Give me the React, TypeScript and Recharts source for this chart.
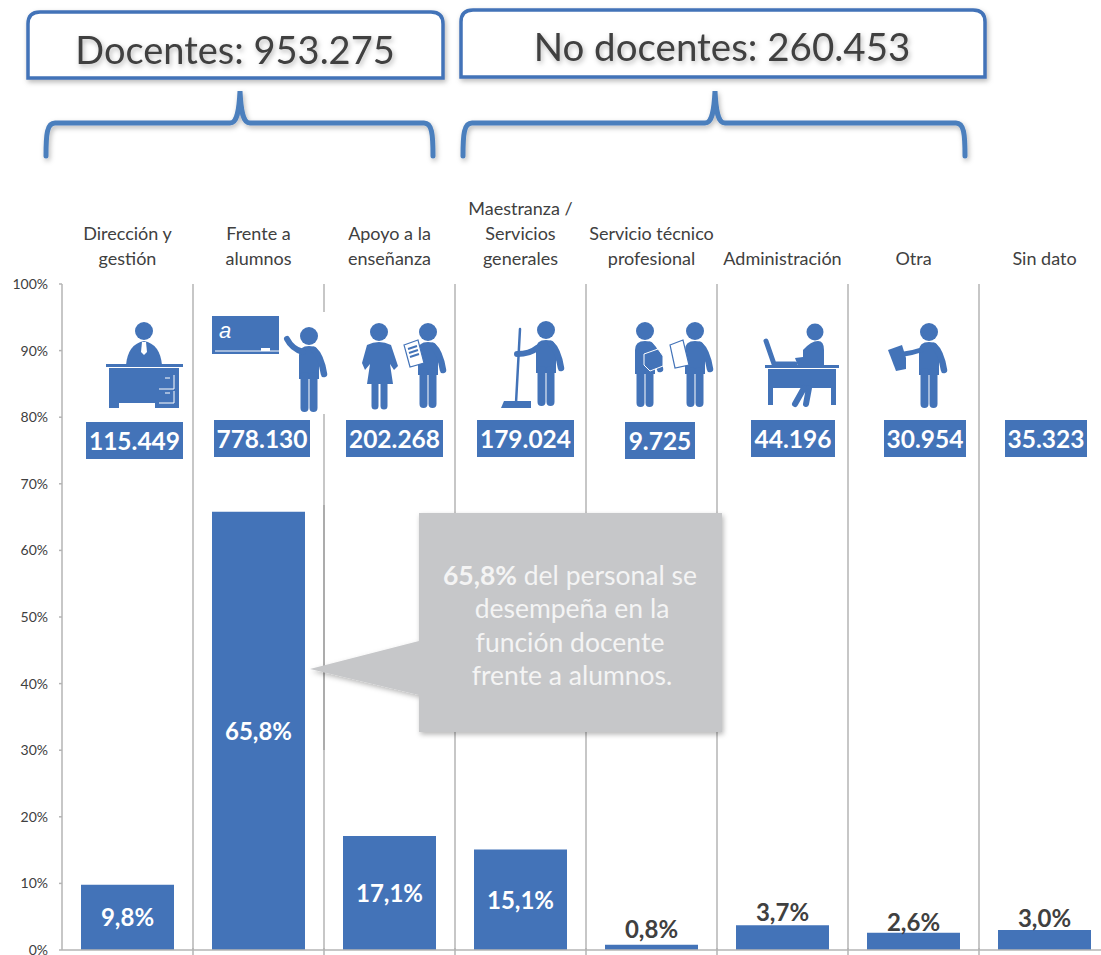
import { Bar, BarChart, CartesianGrid, LabelList, XAxis, YAxis } from "recharts"

const categories = [
  "Dirección y\ngestión",
  "Frente a\nalumnos",
  "Apoyo a la\nenseñanza",
  "Maestranza /\nServicios\ngenerales",
  "Servicio técnico\nprofesional",
  "Administración",
  "Otra",
  "Sin dato",
]
const percentages = [9.8, 65.8, 17.1, 15.1, 0.8, 3.7, 2.6, 3.0]
const counts = ["115.449", "778.130", "202.268", "179.024", "9.725", "44.196", "30.954", "35.323"]
const yTicks = [0, 10, 20, 30, 40, 50, 60, 70, 80, 90, 100]

// count boxes sit a little off the bar centre in the original
const boxOffset = [7, 3.5, 5, 5, 8.5, 10.5, 11.5, 1.5]
const boxWidth = [97, 96, 97, 97, 70, 84, 82, 82]
const boxTop = [422, 420, 420, 420, 422, 420, 420, 420]
// gap between a small bar and its label
const labelLift = [0, 0, 0, 0, 7, 4, 2, 3]

const chartData = categories.map((name, i) => ({ name, pct: percentages[i], count: counts[i] }))

const BLUE = "#4373b8"
const GRID = "#b4b4b4"
const TEXT = "#404040"
const FONT = "Lato, sans-serif"
const BAND = 131

function CategoryTick({ x, y, payload }: any) {
  const lines = String(payload.value).split("\n")
  return (
    <text textAnchor="middle" fontFamily={FONT} fontSize={18} fill={TEXT}>
      {lines.map((line, i) => (
        <tspan key={line} x={x} y={y - 11 - (lines.length - 1 - i) * 25}>
          {line}
        </tspan>
      ))}
    </text>
  )
}

function BoundaryTick({ x, y }: any) {
  return <line x1={x + BAND / 2} x2={x + BAND / 2} y1={y - 4} y2={y + 10} stroke={GRID} strokeWidth={1.5} />
}

function PercentLabel({ x, y, width, height, value, index }: any) {
  const inside = value > 5
  const cx = x + width / 2
  return (
    <text
      x={cx}
      y={inside ? y + height / 2 + 9 : y - labelLift[index]}
      textAnchor="middle"
      fontFamily={FONT}
      fontWeight={700}
      fontSize={24}
      fill={inside ? "#ffffff" : TEXT}
    >
      {String(value.toFixed(1)).replace(".", ",")}%
    </text>
  )
}

function CountLabel({ x, width, value, index }: any) {
  const cx = x + width / 2 + boxOffset[index]
  return (
    <g>
      <rect x={cx - boxWidth[index] / 2} y={boxTop[index]} width={boxWidth[index]} height={37} fill={BLUE} />
      <text
        x={cx}
        y={boxTop[index] + 28}
        textAnchor="middle"
        fontFamily={FONT}
        fontWeight={700}
        fontSize={24.5}
        fill="#ffffff"
      >
        {value}
      </text>
    </g>
  )
}

// standing figure used by most of the pictograms
function Person({ x, head = 332 }: { x: number; head?: number }) {
  const t = head + 10
  return (
    <g fill={BLUE} stroke="none">
      <circle cx={x} cy={head} r={9} />
      <path d={`M${x - 10} ${t + 33} V${t + 9} Q${x - 10} ${t} ${x} ${t} Q${x + 10} ${t} ${x + 10} ${t + 9} V${t + 33} Z`} />
      <path
        d={`M${x + 5} ${t + 4} Q${x + 12} ${t + 10} ${x + 15} ${t + 28}`}
        fill="none"
        stroke={BLUE}
        strokeWidth={6.5}
        strokeLinecap="round"
      />
      <path
        d={`M${x - 4.5} ${t + 30} V${t + 62} M${x + 4.5} ${t + 30} V${t + 62}`}
        stroke={BLUE}
        strokeWidth={8}
        strokeLinecap="round"
      />
    </g>
  )
}

function Icons() {
  return (
    <g fill={BLUE}>
      {/* director */}
      <circle cx={144} cy={331} r={9} />
      <path d="M126 365 Q128 344 144 341 Q160 344 162 365 Z" />
      <path d="M142 342 H146 L147 352 L144 355 L141 352 Z" fill="#fff" />
      <rect x={106} y={364} width={77} height={3} />
      <path d="M109 368 H179 V408 H155 V403 H119 V408 H109 Z" />
      <path d="M159 389 H174 V375 M159 403 H174 V391 M165 378 H170 M165 393 H170" fill="none" stroke="#fff" strokeWidth={1} />

      {/* teacher */}
      <rect x={320} y={312} width={7} height={102} fill="#fff" />
      <rect x={212} y={316} width={67} height={38} />
      <text x={219} y={338} fontFamily="Liberation Sans" fontStyle="italic" fontSize={22} fill="#fff">
        a
      </text>
      <path d="M215 351 H279" stroke="#fff" strokeWidth={1} />
      <rect x={261} y={348} width={9} height={3} fill="#fff" />
      <Person x={309} head={336} />
      <path d="M303 352 Q292 349 287 339" fill="none" stroke={BLUE} strokeWidth={6} strokeLinecap="round" />

      {/* support staff */}
      <circle cx={379} cy={332} r={9} />
      <path d="M367 345 Q379 339 391 345 L398 366 L394 370 L390 364 L393 384 H367 L370 364 L365 370 L362 363 Z" />
      <path d="M375 384 V406 M384 384 V406" stroke={BLUE} strokeWidth={7} strokeLinecap="round" />
      <Person x={428} />
      <path d="M404 345 L418 340 L424 363 L410 367 Z" fill="#fff" stroke={BLUE} strokeWidth={1.2} />
      <path d="M408 349 L417 346 M409 353 L418 350 M410 357 L419 354" stroke={BLUE} strokeWidth={2} />

      {/* cleaner */}
      <Person x={546} head={330} />
      <path d="M520 329 L516 403" stroke={BLUE} strokeWidth={2.5} strokeLinecap="round" />
      <path d="M537 348 Q530 354 517 354" fill="none" stroke={BLUE} strokeWidth={6} strokeLinecap="round" />
      <path d="M504 401 H531 V408 H501 Z" />

      {/* technical service */}
      <Person x={645} head={331} />
      <Person x={695} head={331} />
      <path d="M644 354 L658 349 L663 356 V366 L650 371 L644 365 Z" stroke="#fff" strokeWidth={1} />
      <path d="M670 345 L683 340 L689 365 L675 368 Z" fill="#fff" stroke={BLUE} strokeWidth={1.2} />

      {/* administration */}
      <circle cx={815} cy={332} r={8.5} />
      <path d="M803 350 Q811 341 818 341 Q824 341 824 350 V366 H798 L795 358 L803 357 Z" />
      <rect x={765} y={365} width={74} height={3} />
      <path d="M768 369 H836 V405 H831 V388 H773 V405 H768 Z" />
      <path d="M804 388 L795 404 M809 388 L806 404" stroke={BLUE} strokeWidth={6} strokeLinecap="round" />
      <path d="M766 341 L774 364 H795" fill="none" stroke={BLUE} strokeWidth={5} strokeLinecap="round" strokeLinejoin="round" />

      {/* other */}
      <Person x={929} />
      <path d="M921 350 Q912 353 904 354" fill="none" stroke={BLUE} strokeWidth={5} strokeLinecap="round" />
      <path d="M888 350 L902 345 L906 358 L906 369 L896 371 Z" />
    </g>
  )
}

function Annotations() {
  return (
    <svg width={1101} height={955} style={{ position: "absolute", left: 0, top: 0 }}>
      <defs>
        <filter id="soft" x="-10%" y="-20%" width="120%" height="140%">
          <feDropShadow dx={1.5} dy={2.5} stdDeviation={2.5} floodColor="#000" floodOpacity={0.28} />
        </filter>
      </defs>

      <path d="M28 78 V24 Q28 12 40 12 H431 Q443 12 443 24 V78 Z" fill="#fff" stroke={BLUE} strokeWidth={3.5} filter="url(#soft)" />
      <path d="M461 77 V22 Q461 10 473 10 H973 Q985 10 985 22 V77 Z" fill="#fff" stroke={BLUE} strokeWidth={3.5} filter="url(#soft)" />
      <text x={235} y={64} textAnchor="middle" fontFamily={FONT} fontSize={38} fill={TEXT} filter="url(#soft)">
        Docentes: 953.275
      </text>
      <text x={722} y={61} textAnchor="middle" fontFamily={FONT} fontSize={38.5} fill={TEXT} filter="url(#soft)">
        No docentes: 260.453
      </text>

      <g fill="none" stroke="#4c7fbd" strokeWidth={5} strokeLinecap="round" filter="url(#soft)">
        <path d="M46 156 C46 134 47 123 55 123 H230 C237 123 239 112 240 91 C241 112 243 123 250 123 H424 C432 123 433 134 433 156" />
        <path d="M463 156 C463 134 464 123 472 123 H705 C712 123 714 112 715 91 C716 112 718 123 725 123 H956 C964 123 965 134 965 156" />
      </g>

      <rect x={323.2} y={505} width={1.6} height={245} fill="#a6a6a6" />

      <Icons />

      <path
        d="M419 513 H722 V732 H419 V695 L310 669 L419 641 Z"
        fill="#c6c7c9"
        filter="url(#soft)"
      />
      <g textAnchor="middle" fontFamily={FONT} fontSize={26.5} fill="#f4f4f4">
        <text x={570} y={585}>
          <tspan fontWeight={700}>65,8%</tspan> del personal se
        </text>
        <text x={572} y={618}>desempeña en la</text>
        <text x={570} y={652}>función docente</text>
        <text x={572} y={685}>frente a alumnos.</text>
      </g>
    </svg>
  )
}

export default function App() {
  return (
    <div style={{ position: "absolute", left: 0, top: 0, width: 1101, height: 955, overflow: "hidden", background: "#fff" }}>
      <BarChart
        width={1110}
        height={955}
        data={chartData}
        margin={{ top: 0, right: 0, bottom: 0, left: 0 }}
        barCategoryGap={19}
      >
        <CartesianGrid
          horizontal={false}
          stroke={GRID}
          strokeWidth={1.5}
          verticalCoordinatesGenerator={({ offset }: any) =>
            categories.map((_, i) => offset.left + ((i + 1) * offset.width) / categories.length)
          }
        />
        <XAxis
          dataKey="name"
          orientation="top"
          height={284}
          interval={0}
          axisLine={false}
          tickLine={false}
          tick={<CategoryTick />}
        />
        <XAxis
          xAxisId="bottom"
          dataKey="name"
          orientation="bottom"
          height={5}
          interval={0}
          tickLine={false}
          tickSize={0}
          axisLine={{ stroke: GRID, strokeWidth: 1.5 }}
          tick={<BoundaryTick />}
        />
        <YAxis
          width={62}
          domain={[0, 100]}
          ticks={yTicks}
          interval={0}
          tickFormatter={(v: number) => `${v}%`}
          tickSize={3}
          tickMargin={11}
          axisLine={{ stroke: GRID, strokeWidth: 1.5 }}
          tickLine={{ stroke: GRID, strokeWidth: 1.5 }}
          tick={{ fill: TEXT, fontSize: 14, fontFamily: FONT }}
        />
        <Bar dataKey="pct" fill={BLUE} isAnimationActive={false}>
          <LabelList dataKey="pct" content={<PercentLabel />} />
          <LabelList dataKey="count" content={<CountLabel />} />
        </Bar>
      </BarChart>
      <Annotations />
    </div>
  )
}
